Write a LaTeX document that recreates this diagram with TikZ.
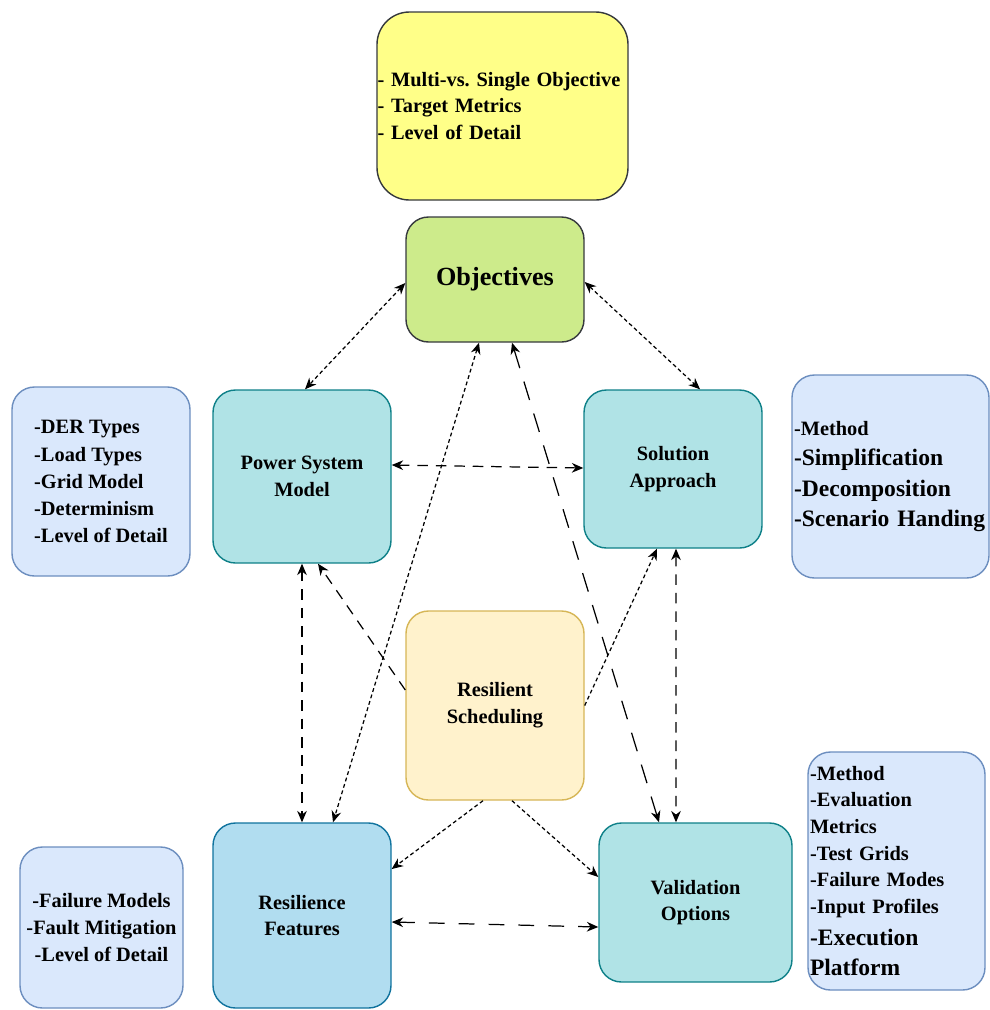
\documentclass[tikz,border=0pt]{standalone}
\usepackage{fontspec}
\setmainfont{Liberation Serif}
\usepackage{xcolor}
\usetikzlibrary{arrows.meta,calc}
\frenchspacing

\definecolor{topfill}{HTML}{FFFF88}
\definecolor{topdraw}{HTML}{36393D}
\definecolor{objfill}{HTML}{CDEB8B}
\definecolor{tealfill}{HTML}{B0E3E6}
\definecolor{tealdraw}{HTML}{0E8088}
\definecolor{rsfill}{HTML}{FFF2CC}
\definecolor{rsdraw}{HTML}{D6B656}
\definecolor{rffill}{HTML}{B1DDF0}
\definecolor{rfdraw}{HTML}{10739E}
\definecolor{infofill}{HTML}{DAE8FC}
\definecolor{infodraw}{HTML}{6C8EBF}

\begin{document}
\begin{tikzpicture}[
  font=\bfseries\fontsize{11.6}{15.2}\selectfont,
  box/.style={
    rectangle, draw, line width=0.8pt, rounded corners=0.45cm,
    align=center, inner sep=2pt
  },
  core/.style={box, fill=tealfill, draw=tealdraw, minimum width=3.56cm},
  info/.style={box, fill=infofill, draw=infodraw, align=left},
  dotarrow/.style={line width=0.7pt, dash pattern=on 2.2pt off 1.6pt},
  dasharrow/.style={line width=0.7pt, dash pattern=on 6pt off 4.5pt},
  longarrow/.style={line width=0.7pt, dash pattern=on 11pt off 8pt},
  >={Stealth[length=6.5pt,width=5.5pt]}
]
\useasboundingbox (0,0) rectangle (19.8,-20.2);

% Top
\node[box, fill=topfill, draw=topdraw, rounded corners=0.65cm,
      minimum width=5.02cm, minimum height=3.76cm,
      text width=5.0cm, inner xsep=0.01cm, align=left] (crit) at (10.05,-2.12)
  {- Multi-vs. Single Objective\\- Target Metrics\\- Level of Detail};
\node[box, fill=objfill, draw=topdraw, minimum width=3.56cm, minimum height=2.5cm,
      font=\bfseries\fontsize{14.9}{18}\selectfont] (obj) at (9.9,-5.59) {Objectives};

% Middle
\node[core, minimum height=3.46cm] (psm) at (6.04,-9.53) {Power System\\Model};
\node[core, minimum height=3.16cm] (sa) at (13.46,-9.38) {Solution\\Approach};
\node[box, fill=rsfill, draw=rsdraw, minimum width=3.56cm, minimum height=3.78cm]
  (rs) at (9.9,-14.11) {Resilient\\Scheduling};

% Bottom
\node[box, fill=rffill, draw=rfdraw, minimum width=3.56cm, minimum height=3.7cm]
  (rf) at (6.04,-18.31) {Resilience\\Features};
\node[core, minimum width=3.86cm, minimum height=3.18cm] (vo) at (13.91,-18.05)
  {Validation\\Options};

% Lists
\node[info, minimum width=3.56cm, minimum height=3.78cm,
      font=\bfseries\fontsize{11.6}{15.4}\selectfont] (psminfo) at (2.02,-9.63)
  {-DER Types\\-Load Types\\-Grid Model\\-Determinism\\-Level of Detail};
\node[info, minimum width=3.94cm, minimum height=4.06cm, text width=3.86cm,
      inner xsep=0.04cm, font=\bfseries\fontsize{13.4}{17.4}\selectfont] (sainfo) at (17.81,-9.53)
  {{\fontsize{11.6}{17.4}\selectfont -Method}\\-Simplification\\-Decomposition\\-Scenario Handing};
\node[info, minimum width=3.54cm, minimum height=4.76cm, text width=3.46cm,
      inner xsep=0.04cm] (voinfo) at (17.93,-17.42)
  {-Method\\-Evaluation\\Metrics\\-Test Grids\\-Failure Modes\\-Input Profiles\\[3pt]
   {\fontsize{13.4}{17}\selectfont -Execution}\\[2pt]{\fontsize{13.4}{17}\selectfont Platform}};
\node[info, align=center, minimum width=3.26cm, minimum height=3.22cm] (rfinfo) at (2.03,-18.55)
  {-Failure Models\\-Fault Mitigation\\-Level of Detail};

% Connectors
\draw[dotarrow, <->] ([yshift=-0.07cm]obj.west) -- ([xshift=0.06cm]psm.north);
\draw[dotarrow, <->] ([yshift=-0.05cm]obj.east) -- ([xshift=0.54cm]sa.north);
\draw[dasharrow, <->] ([yshift=0.23cm]psm.east) -- ([yshift=0.02cm]sa.west);
\draw[dotarrow, <->] ([xshift=-0.32cm]obj.south) -- ([xshift=0.62cm]rf.north);
\draw[longarrow, <->] ([xshift=0.34cm]obj.south) -- ([xshift=-0.73cm]vo.north);
\draw[dasharrow, ->] ([yshift=0.31cm]rs.west) -- ([xshift=0.32cm]psm.south);
\draw[dotarrow, ->] (rs.east) -- ([xshift=-0.32cm]sa.south);
\draw[dasharrow, <->] (psm.south) -- (rf.north);
\draw[dasharrow, <->] ([xshift=0.06cm]sa.south) -- ([xshift=-0.39cm]vo.north);
\draw[dotarrow, ->] ([xshift=-0.24cm]rs.south) -- ([yshift=0.93cm]rf.east);
\draw[dotarrow, ->] ([xshift=0.34cm]rs.south) -- ([yshift=0.51cm]vo.west);
\draw[longarrow, <->, dash pattern=on 9pt off 8pt] ([yshift=-0.13cm]rf.east) -- ([yshift=-0.49cm]vo.west);
\end{tikzpicture}
\end{document}
